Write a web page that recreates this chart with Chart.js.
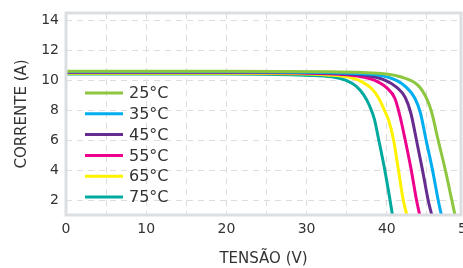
<!DOCTYPE html>
<html>
<head>
<meta charset="utf-8">
<script src="https://cdn.jsdelivr.net/npm/chart.js@4"></script>
<style>
  html, body { margin: 0; padding: 0; background: #fff; }
  #wrap { width: 463px; height: 268px; }
</style>
</head>
<body>
<div id="wrap"><canvas id="chart" width="463" height="268"></canvas></div>
<script>
'use strict';

// temperatures shown in the legend
let temps = ['25°C', '35°C', '45°C', '55°C', '65°C', '75°C'];
let colors = ['#8dc63f', '#00aeef', '#662d91', '#ec008c', '#fff200', '#00a99d'];

// voltage (V) / current (A), one pair of arrays per curve
let v25 = [0, 20, 33, 37, 39.8, 41.8, 43.9, 45.0, 45.6, 46.4, 47.3, 48.1, 48.5];
let i25 = [10.6, 10.6, 10.57, 10.52, 10.43, 10.22, 9.66, 8.75, 7.85, 6.0, 4.0, 2.0, 1.0];
let v35 = [0, 20, 32, 36, 38.9, 41.2, 42.4, 43.5, 44.2, 44.9, 45.7, 46.4, 46.8];
let i35 = [10.57, 10.57, 10.52, 10.46, 10.36, 10.0, 9.55, 8.8, 7.8, 6.0, 4.0, 2.0, 1.0];
let v45 = [0, 20, 31, 35, 37.7, 39.8, 41.2, 42.3, 43.0, 43.7, 44.45, 45.15, 45.6];
let i45 = [10.55, 10.55, 10.5, 10.42, 10.3, 10.0, 9.55, 8.85, 7.8, 6.0, 4.0, 2.0, 1.0];
let v55 = [0, 20, 30, 34, 36.4, 38.5, 40.0, 41.0, 41.6, 42.3, 43.05, 43.7, 44.1];
let i55 = [10.52, 10.52, 10.48, 10.4, 10.28, 10.0, 9.5, 8.8, 7.7, 6.0, 4.0, 2.0, 1.0];
let v65 = [0, 20, 29, 32.5, 35.2, 36.9, 38.1, 39.0, 39.7, 40.25, 40.85, 41.45, 42.05, 42.5];
let i65 = [10.48, 10.48, 10.44, 10.36, 10.22, 9.9, 9.45, 8.8, 8.0, 7.3, 6.0, 4.0, 2.0, 1.0];
let v75 = [0, 20, 28, 31, 33.5, 35.0, 36.2, 37.1, 37.85, 38.45, 39.0, 39.75, 40.4, 40.7];
let i75 = [10.42, 10.42, 10.38, 10.32, 10.2, 9.98, 9.6, 9.05, 8.3, 7.4, 6.0, 4.0, 2.0, 1.0];

// axis ticks (50 sits just past the cropped right edge)
let xTicks = [0, 5, 10, 15, 20, 25, 30, 35, 40, 45, 50];
let yTicks = [2, 4, 6, 8, 10, 12, 14];

let xTitle = 'TENSÃO (V)';
let yTitle = 'CORRENTE (A)';

let volts = [v25, v35, v45, v55, v65, v75];
let amps = [i25, i35, i45, i55, i65, i75];

const font = "'DejaVu Sans', sans-serif";
const textColor = '#333333';
const frameColor = '#dcdfe2';

function points(vs, is) {
    let out = [];
    for (let i = 0; i < vs.length; i++) {
        out.push({ x: vs[i], y: is[i] });
    }
    return out;
}

let datasets = [];
for (let k = 0; k < temps.length; k++) {
    datasets.push({
        label: temps[k],
        data: points(volts[k], amps[k]),
        borderColor: colors[k],
        backgroundColor: colors[k],
        borderWidth: 3,
        pointRadius: 0,
        cubicInterpolationMode: 'monotone',
        fill: false
    });
}

// legend drawn inside the plot, top-left
const insideLegend = {
    id: 'insideLegend',
    afterDatasetsDraw(chart) {
        const ctx = chart.ctx;
        const area = chart.chartArea;
        const x0 = area.left + 19;
        const y0 = 93;
        const gap = 20.8;
        ctx.save();
        ctx.font = '16px ' + font;
        ctx.textBaseline = 'middle';
        ctx.fillStyle = textColor;
        chart.data.datasets.forEach((ds, i) => {
            const y = y0 + i * gap;
            ctx.strokeStyle = ds.borderColor;
            ctx.lineWidth = 3;
            ctx.beginPath();
            ctx.moveTo(x0, y);
            ctx.lineTo(x0 + 38, y);
            ctx.stroke();
            ctx.fillText(ds.label, x0 + 44, y + 1);
        });
        ctx.restore();
    }
};

// grey box round the plot area
const frame = {
    id: 'frame',
    afterDraw(chart) {
        const a = chart.chartArea;
        const ctx = chart.ctx;
        ctx.save();
        ctx.strokeStyle = frameColor;
        ctx.lineWidth = 3;
        ctx.strokeRect(a.left, a.top, a.right - a.left, a.bottom - a.top);
        ctx.restore();
    }
};

new Chart(document.getElementById('chart'), {
    type: 'line',
    data: { datasets: datasets },
    plugins: [insideLegend, frame],
    options: {
        responsive: false,
        animation: false,
        layout: { padding: { top: 13, right: 2, left: 0, bottom: 0 } },
        plugins: {
            legend: { display: false },
            tooltip: { enabled: false }
        },
        scales: {
            x: {
                type: 'linear',
                min: 0,
                max: 49.25,
                afterBuildTicks(scale) {
                    scale.ticks = xTicks.map(v => ({ value: v }));
                },
                afterFit(scale) {
                    scale.height = 53;
                    scale.paddingLeft = 0;
                    scale.paddingRight = 0;
                },
                grid: { color: '#dddddd', lineWidth: 1, drawTicks: false },
                border: { display: false, dash: [6, 5] },
                ticks: {
                    padding: 6,
                    color: textColor,
                    font: { family: font, size: 14 },
                    maxRotation: 0,
                    autoSkip: false,
                    callback: v => (v % 10 === 0 ? v : '')
                },
                title: {
                    display: true,
                    text: xTitle,
                    color: textColor,
                    font: { family: font, size: 15 },
                    padding: { top: 0, bottom: 0 }
                }
            },
            y: {
                min: 1,
                max: 14.5,
                afterBuildTicks(scale) {
                    scale.ticks = yTicks.map(v => ({ value: v }));
                },
                afterFit(scale) {
                    scale.width = 66;
                    scale.paddingTop = 0;
                    scale.paddingBottom = 0;
                },
                grid: { color: '#dddddd', lineWidth: 1, drawTicks: false },
                border: { display: false, dash: [6, 5] },
                ticks: {
                    padding: 7,
                    color: textColor,
                    font: { family: font, size: 14 }
                },
                title: {
                    display: true,
                    text: yTitle,
                    color: textColor,
                    font: { family: font, size: 15 },
                    padding: { top: 13, bottom: 0 }
                }
            }
        }
    }
});
</script>
</body>
</html>
